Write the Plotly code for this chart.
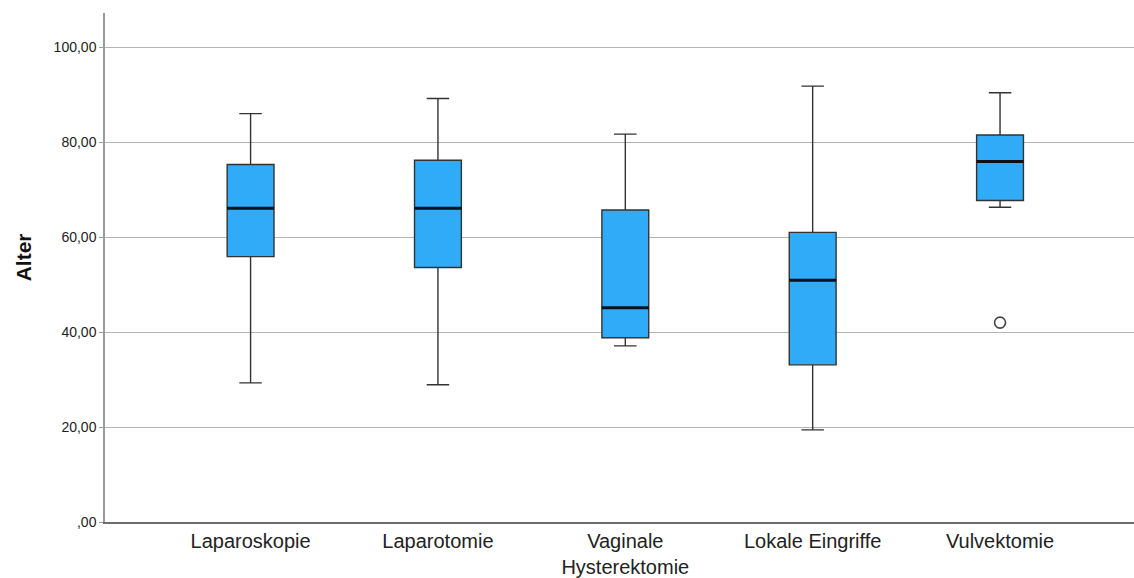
import plotly.graph_objects as go

categories = ["Laparoskopie", "Laparotomie", "Vaginale<br>Hysterektomie", "Lokale Eingriffe", "Vulvektomie"]
lower_whisker = [29.3, 28.9, 37.1, 19.4, 66.3]
q1_values = [55.9, 53.6, 38.8, 33.1, 67.7]
median_values = [66.1, 66.1, 45.1, 50.9, 75.9]
q3_values = [75.3, 76.2, 65.7, 61.0, 81.5]
upper_whisker = [86.0, 89.2, 81.7, 91.8, 90.4]
outlier_cats = ["Vulvektomie"]
outlier_values = [42.0]

y_tickvals = [0, 20, 40, 60, 80, 100]
y_ticktext = [",00", "20,00", "40,00", "60,00", "80,00", "100,00"]

BOX_FILL = "#2fabf7"
EDGE = "#333333"

fig = go.Figure()
fig.add_trace(go.Box(
    x=categories,
    q1=q1_values, median=median_values, q3=q3_values,
    lowerfence=lower_whisker, upperfence=upper_whisker,
    fillcolor=BOX_FILL,
    line=dict(color=EDGE, width=1.4),
    width=0.25,
    whiskerwidth=0.48,
    boxpoints=False,
    showlegend=False,
    hoverinfo="skip",
))
# thick median lines
fig.add_trace(go.Scatter(
    x=categories, y=median_values, mode="markers",
    marker=dict(symbol="line-ew", size=33.5, line=dict(color="#0a0f1e", width=3)),
    showlegend=False, hoverinfo="skip",
))
# outliers
fig.add_trace(go.Scatter(
    x=outlier_cats, y=outlier_values, mode="markers",
    marker=dict(symbol="circle-open", size=11, color="#444444", line=dict(color="#444444", width=1.6)),
    showlegend=False, hoverinfo="skip",
))

fig.add_annotation(
    text="<b>Alter</b>", textangle=-90, xref="paper", yref="paper",
    x=-0.0797, y=0.52, xanchor="center", yanchor="middle", showarrow=False,
    font=dict(family="Liberation Sans, Arial, sans-serif", size=21, color="#111111"),
)

fig.update_layout(
    width=1134, height=578,
    margin=dict(l=105, r=0, t=13, b=56),
    paper_bgcolor="white", plot_bgcolor="white",
    font=dict(family="Liberation Sans, Arial, sans-serif", color="#222222"),
    showlegend=False,
)
fig.update_xaxes(
    type="category", categoryorder="array", categoryarray=categories,
    range=[-0.777, 4.715],
    showgrid=False, zeroline=False,
    showline=True, linecolor="#6e6e6e", linewidth=2,
    ticks="", tickfont=dict(size=20, color="#222222"),
)
fig.update_yaxes(
    range=[0, 107.2],
    tickvals=y_tickvals, ticktext=y_ticktext,
    showgrid=True, gridcolor="#b4b4b4", gridwidth=1,
    zeroline=False,
    showline=True, linecolor="#9a9a9a", linewidth=1.5,
    ticks="outside", ticklen=4, tickcolor="#9a9a9a",
    tickfont=dict(size=14, color="#222222"),
)

fig.write_html("out.html")
